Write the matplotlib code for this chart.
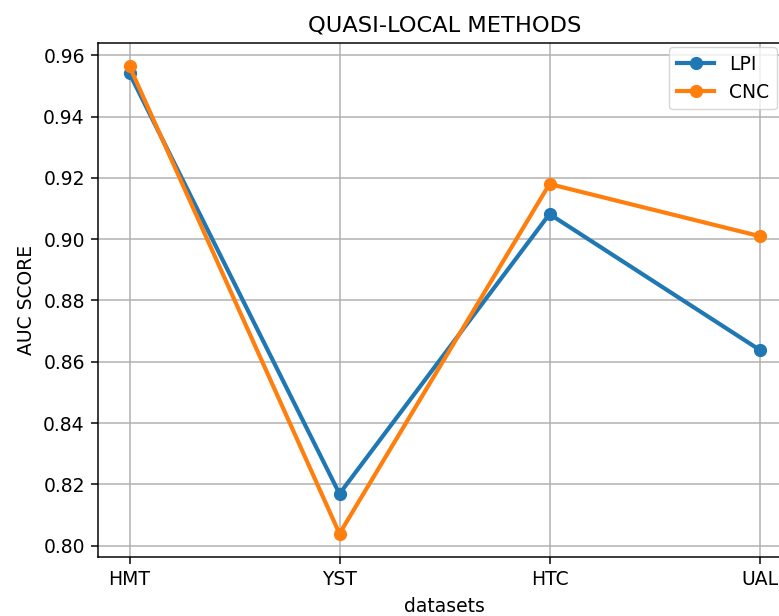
import matplotlib.pyplot as plt

# AUC scores of the quasi-local methods on each dataset
datasets = ['HMT', 'YST', 'HTC', 'UAL']
lpi = [0.9541, 0.8169, 0.9082, 0.8639]
cnc = [0.9564, 0.8039, 0.9180, 0.9010]

s = 1.35  # everything drawn a bit larger than the defaults
plt.rcParams.update({
    'font.size': 10 * s,
    'axes.titlesize': 12 * s,
    'axes.linewidth': 0.8 * s,
    'axes.titlepad': 6 * s,
    'axes.labelpad': 4 * s,
    'grid.linewidth': 0.8 * s,
    'xtick.major.size': 3.5 * s,
    'ytick.major.size': 3.5 * s,
    'xtick.major.width': 0.8 * s,
    'ytick.major.width': 0.8 * s,
    'xtick.major.pad': 3.5 * s,
    'ytick.major.pad': 3.5 * s,
})

fig = plt.figure(figsize=(7.79, 6.16), dpi=100)
# axes run a little past the right edge of the figure
ax = fig.add_axes([98/779, 59/616, 693/779, 514/616])

ax.plot(datasets, lpi, marker='o', linewidth=3, markersize=8.5, label='LPI')
ax.plot(datasets, cnc, marker='o', linewidth=3, markersize=8.5, label='CNC')

ax.set_title('QUASI-LOCAL METHODS')
ax.set_xlabel('datasets')
ax.set_ylabel('AUC SCORE')
ax.grid(True)
ax.legend(loc='upper right', bbox_to_anchor=(777/779, 1 - 47/616),
          bbox_transform=fig.transFigure, borderaxespad=0)

plt.savefig('out.png', dpi=100)
